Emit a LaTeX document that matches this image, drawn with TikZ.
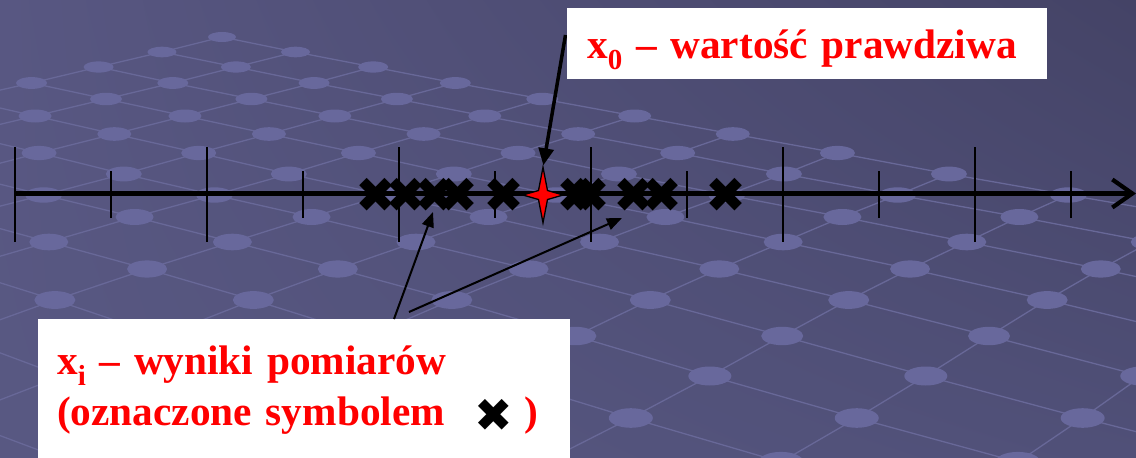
\documentclass[tikz,border=0pt]{standalone}
\usepackage{fontspec}
\setmainfont{Liberation Serif}
\newfontfamily\symfont{DejaVu Sans}
\usetikzlibrary{arrows.meta,calc,shadings}
\definecolor{bgTL}{RGB}{88,87,130}
\definecolor{bgTR}{RGB}{68,67,102}
\definecolor{bgBL}{RGB}{88,88,130}
\definecolor{bgBR}{RGB}{80,80,120}
\definecolor{gline}{RGB}{104,104,152}
\definecolor{gnode}{RGB}{104,104,156}
\definecolor{txtred}{RGB}{255,0,0}
\newcommand\lowsub[1]{\raisebox{-0.27em}{\fontsize{29}{29}\selectfont #1}}
\tikzset{
  gridline/.style={draw=gline, line width=1.3pt},
  gridnode/.style={fill=gnode},
  axisline/.style={line width=4.2pt, -{Straight Barb[length=20pt,width=28pt]}},
  longtick/.style={line width=2pt},
  shorttick/.style={line width=2pt},
  meas/.style={inner sep=0pt, font=\symfont\fontsize{49}{49}\selectfont},
  whitebox/.style={fill=white, inner ysep=0pt, align=left, text=txtred,
    font=\fontsize{41.3}{51}\selectfont\bfseries},
  bigarrow/.style={line width=3.5pt, -{Triangle[length=17pt,width=15pt]}, shorten >=2pt},
  thinarrow/.style={line width=2pt, -{Triangle[length=15pt,width=12pt]}}
}
\begin{document}
\begin{tikzpicture}[x=1pt,y=-1pt]
\useasboundingbox (0,0) rectangle (1136,458);
\shade[upper left=bgTL, upper right=bgTR, lower left=bgBL, lower right=bgBR]
  (0,0) rectangle (1136,458);
% perspective lattice in the background
\def\rowsy{{37,52,67,83,99,116,134,153,174,195,217,242,269,300,336,376,418,462,508}}
\begin{scope}
\clip (0,0) rectangle (1136,458);
\foreach \n in {0,...,18}{
  \foreach \i in {0,...,\n}{
    \pgfmathtruncatemacro\j{\n-\i}
    \pgfmathsetmacro\gx{(8.367+2.476*\i-2.424*\j)/(37.69-\n)*1000}
    \pgfmathsetmacro\gy{\rowsy[\n]}
    \coordinate (g-\i-\j) at (\gx,\gy);
  }
}
\foreach \n in {0,...,17}{
  \foreach \i in {0,...,\n}{
    \pgfmathtruncatemacro\j{\n-\i}
    \pgfmathtruncatemacro\ii{\i+1}
    \pgfmathtruncatemacro\jj{\j+1}
    \draw[gridline] (g-\i-\j) -- (g-\ii-\j);
    \draw[gridline] (g-\i-\j) -- (g-\i-\jj);
  }
}
\foreach \n in {0,...,18}{
  \foreach \i in {0,...,\n}{
    \pgfmathtruncatemacro\j{\n-\i}
    \pgfmathsetmacro\rx{14+0.5*\n}
    \pgfmathsetmacro\ry{5+0.3*\n}
    \fill[gridnode] (g-\i-\j) ellipse [x radius=\rx pt, y radius=\ry pt];
  }
}
\end{scope}
% axis
\coordinate (axL) at (15,193.5);
\coordinate (axR) at (1136,193.5);
\draw[axisline] (axL) -- (axR);
\foreach \k in {0,...,11}{
  \pgfmathsetmacro\tx{15+96*\k}
  \ifodd\k
    \draw[shorttick] (\tx,171) -- (\tx,218);
  \else
    \draw[longtick] (\tx,147) -- (\tx,242);
  \fi
}
% measurements
\node[meas] (m1) at (376,195) {✖};
\node[meas] (m2) at (406,195) {✖};
\node[meas] (m3) at (435,195) {✖};
\node[meas] (m4) at (458,195) {✖};
\node[meas] (m5) at (504,195) {✖};
\node[meas] (m6) at (577,195) {✖};
\node[meas] (m7) at (590,195) {✖};
\node[meas] (m8) at (634,195) {✖};
\node[meas] (m9) at (662,195) {✖};
\node[meas] (m10) at (726,195) {✖};
% true value star
\node[minimum width=40pt, minimum height=55pt, inner sep=0pt] (star) at (543,195) {};
\filldraw[fill=red, draw=black, line width=1.3pt]
  (star.north) -- ($(star.center)+(4.5,-4.5)$) -- (star.east)
  -- ($(star.center)+(4.5,4.5)$) -- (star.south)
  -- ($(star.center)+(-4.5,4.5)$) -- (star.west)
  -- ($(star.center)+(-4.5,-4.5)$) -- cycle;
% arrow to the star (starts under the box)
\coordinate (a1) at (565.5,35);
\draw[bigarrow] (a1) -- (star.north);
% boxes
\node[whitebox, anchor=north west, text width=440pt, inner xsep=20pt,
      text height=50pt, text depth=21pt] (box1) at (567,8)
  {\makebox[440pt][l]{x\lowsub{0} – wartość prawdziwa}};
\node[whitebox, anchor=north west, text width=494pt, inner xsep=19pt,
      text height=55pt, text depth=84pt] (box2) at (38,319)
  {\makebox[494pt][l]{x\lowsub{i} – wyniki pomiarów}\\
   \makebox[494pt][l]{(oznaczone symbolem\hspace{30pt}\raisebox{-6pt}{\symfont\fontsize{46}{46}\selectfont\textcolor{black}{✖}}\hspace{11pt})}};
% arrows from the box of measurements
\coordinate (sA) at ($(box2.north west)+(356,0)$);
\coordinate (sB) at ($(box2.north west)+(371,-7)$);
\coordinate (tA) at (433,212);
\coordinate (tB) at (622,218);
\draw[thinarrow] (sA) -- (tA);
\draw[thinarrow] (sB) -- (tB);
\end{tikzpicture}
\end{document}
